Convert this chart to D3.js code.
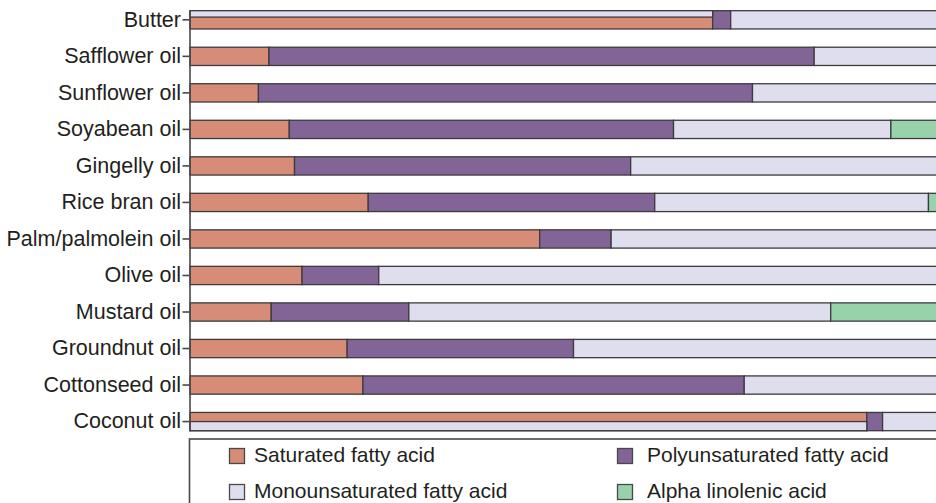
<!DOCTYPE html>
<html>
<head>
<meta charset="utf-8">
<script src="https://cdn.jsdelivr.net/npm/d3@7"></script>
<style>
  html, body { margin: 0; padding: 0; background: #fff; overflow: hidden; }
  svg text { font-family: "Liberation Sans", Arial, sans-serif; fill: #231f20; }
</style>
</head>
<body>
<div id="chart"></div>
<script>
// data (percent of total fat)
const oils = ['Butter', 'Safflower oil', 'Sunflower oil', 'Soyabean oil', 'Gingelly oil',
  'Rice bran oil', 'Palm/palmolein oil', 'Olive oil', 'Mustard oil', 'Groundnut oil',
  'Cottonseed oil', 'Coconut oil'];
const saturated       = [69.5, 10.5,  9.1, 13.2, 13.9, 23.7, 46.5, 14.9, 10.8, 20.9, 23.0, 90.0];
const polyunsaturated = [ 2.4, 72.5, 65.7, 51.1, 44.7, 38.1,  9.5, 10.2, 18.3, 30.1, 50.7,  2.1];
const monounsaturated = [28.1, 17.0, 25.2, 28.9, 41.4, 36.4, 44.0, 74.9, 56.1, 49.0, 26.3,  7.9];
const alphaLinolenic  = [ 0,    0,    0,    6.8,  0,    1.8,  0,    0,   14.8,  0,    0,    0  ];

// rows where the saturated part is drawn as two stripes (mono on top / below)
const splitOils  = ['Butter', 'Coconut oil'];
const splitShare = [0.35, 0.5];       // share of bar height shown as mono
const splitSide  = ['top', 'bottom'];

const seriesNames = ['Saturated fatty acid', 'Polyunsaturated fatty acid',
  'Monounsaturated fatty acid', 'Alpha linolenic acid'];
const seriesKeys  = ['sfa', 'pufa', 'mufa', 'ala'];
const colors      = ['#d68c77', '#836496', '#dfdeef', '#98d2ab'];

const width = 936, height = 503;
const margin = { left: 190 };

const rows = oils.map((name, i) => ({
  name, sfa: saturated[i], pufa: polyunsaturated[i], mufa: monounsaturated[i], ala: alphaLinolenic[i]
}));

const svg = d3.select('#chart').append('svg')
  .attr('width', width)
  .attr('height', height);

const x = d3.scaleLinear().domain([0, 100]).range([margin.left, 942]);
const y = d3.scaleBand().domain(oils).range([10.7, 430.7]).paddingInner(0.5).paddingOuter(0);

const stack = d3.stack().keys(seriesKeys)(rows);
const color = d3.scaleOrdinal().domain(seriesKeys).range(colors);

// 1) bars
const layers = svg.append('g').selectAll('g')
  .data(stack)
  .join('g')
  .attr('fill', d => color(d.key));

layers.selectAll('rect')
  .data(d => d.filter(s => s[1] - s[0] > 0))
  .join('rect')
  .attr('x', d => x(d[0]))
  .attr('y', d => y(d.data.name))
  .attr('width', d => x(d[1]) - x(d[0]))
  .attr('height', y.bandwidth())
  .attr('stroke', '#3d3b3d')
  .attr('stroke-width', 1.3);

// 2) mono stripe inside the saturated segment for butter / coconut
splitOils.forEach((name, i) => {
  const row = rows.find(r => r.name === name);
  const h = y.bandwidth() * splitShare[i];
  const y0 = splitSide[i] === 'top' ? y(name) : y(name) + y.bandwidth() - h;
  svg.append('rect')
    .attr('x', x(0))
    .attr('y', y0)
    .attr('width', x(row.sfa) - x(0))
    .attr('height', h)
    .attr('fill', color('mufa'))
    .attr('stroke', '#3d3b3d')
    .attr('stroke-width', 1.3);
});

// 3) y axis
const yAxis = svg.append('g')
  .attr('transform', `translate(${margin.left - 0.5},0)`)
  .call(d3.axisLeft(y).tickSize(7).tickPadding(1.5).tickSizeOuter(0));

yAxis.select('.domain').attr('stroke', '#4a484a').attr('stroke-width', 1.6);
yAxis.selectAll('.tick line').attr('stroke', '#4a484a').attr('stroke-width', 1.6);
yAxis.selectAll('.tick text')
  .attr('font-size', 21.5)
  .attr('font-family', '"Liberation Sans", Arial, sans-serif')
  .attr('fill', '#231f20');

// 4) legend
const legend = svg.append('g');
legend.append('rect')
  .attr('x', 189.5)
  .attr('y', 439)
  .attr('width', 800)
  .attr('height', 100)
  .attr('fill', 'none')
  .attr('stroke', '#4a484a')
  .attr('stroke-width', 1.6);

const legendX = [229, 617];
const legendTextX = [254, 647];
const legendY = [448, 484];
const legendPos = [[0, 0], [1, 0], [0, 1], [1, 1]];

seriesKeys.forEach((key, i) => {
  const [col, row] = legendPos[i];
  legend.append('rect')
    .attr('x', legendX[col] + 0.5)
    .attr('y', legendY[row] + 0.5)
    .attr('width', 15)
    .attr('height', 15)
    .attr('fill', color(key))
    .attr('stroke', '#4a484a')
    .attr('stroke-width', 1.3);
  legend.append('text')
    .attr('x', legendTextX[col])
    .attr('y', legendY[row] + 14)
    .attr('font-size', 21)
    .text(seriesNames[i]);
});
</script>
</body>
</html>
